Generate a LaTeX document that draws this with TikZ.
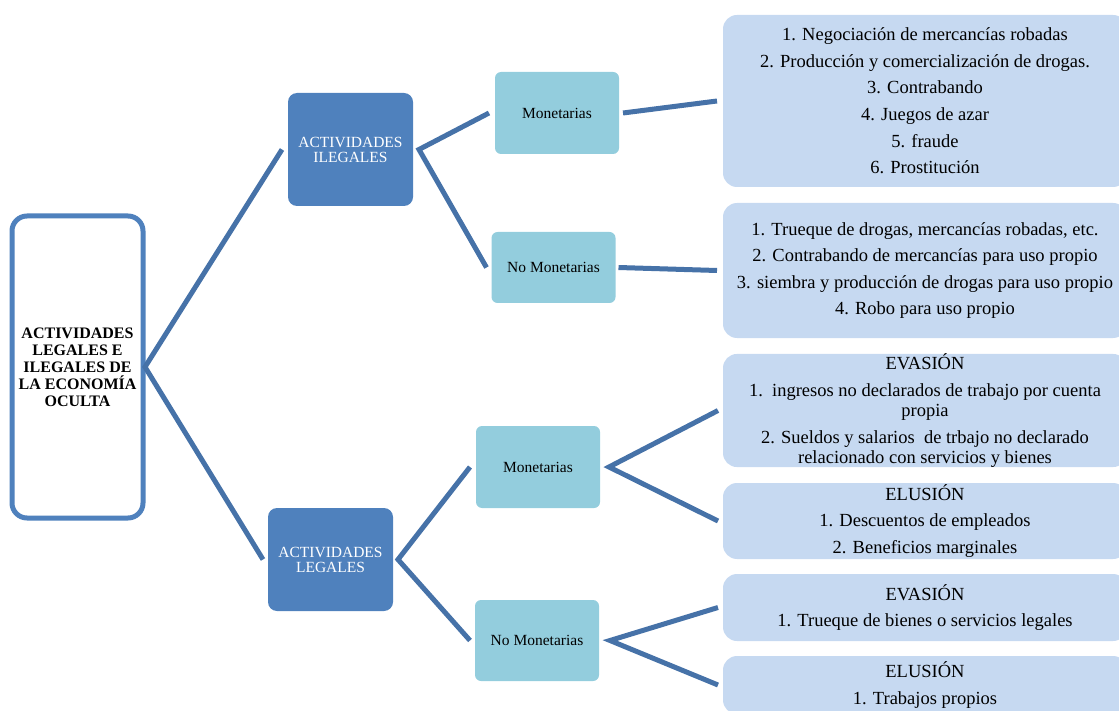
\documentclass[tikz,border=0pt]{standalone}
\usepackage{fontspec}
\setmainfont{Liberation Serif}
\usepackage{tikz}
\usetikzlibrary{positioning}

\definecolor{boxblue}{RGB}{79,129,189}
\definecolor{subblue}{RGB}{147,205,221}
\definecolor{listblue}{RGB}{198,217,241}
\definecolor{linkblue}{RGB}{70,114,168}

\newcommand\rootfont{\bfseries\fontsize{16}{17}\selectfont}
\newcommand\boxfont{\fontsize{15.5}{15}\selectfont}
\newcommand\itemsfont{\fontsize{18.5}{20}\selectfont}

\begin{document}
\begin{tikzpicture}[x=1pt,y=-1pt,on grid,
    rootbox/.style={rectangle,rounded corners=15pt,draw=boxblue,line width=5pt,fill=white,
        font=\rootfont,align=center,minimum width=131pt,minimum height=302pt,inner sep=0pt,outer sep=0pt},
    darkbox/.style={rectangle,rounded corners=9pt,fill=boxblue,text=white,font=\boxfont,
        align=center,minimum width=125pt,inner sep=0pt,outer sep=0pt},
    subbox/.style={rectangle,rounded corners=6pt,fill=subblue,font=\boxfont,
        align=center,minimum width=124pt,minimum height=82pt,inner sep=0pt,outer sep=0pt},
    listbox/.style={rectangle,rounded corners=14pt,fill=listblue,font=\itemsfont,
        align=center,minimum width=404pt,inner sep=0pt,outer sep=0pt},
    link/.style={draw=linkblue,line width=5pt}]
            \useasboundingbox (0,0) rectangle (1119,711);

            \node[rootbox] (root) at (77.5,367) {ACTIVIDADES\\LEGALES E\\ILEGALES DE\\LA ECONOMÍA\\OCULTA};
            \node[darkbox,minimum height=113pt] (ileg) [above right=217.5pt and 273pt of root] {ACTIVIDADES\\ILEGALES};
            \node[darkbox,minimum height=103pt] (leg) [below right=192.5pt and 253pt of root] {ACTIVIDADES\\LEGALES};

            \node[subbox] (mon1) [above right=36.5pt and 206.5pt of ileg] {Monetarias};
            \node[subbox,minimum height=71pt] (nomon1) [below right=118pt and 203pt of ileg] {No Monetarias};
            \node[subbox] (mon2) [above right=92.5pt and 207.5pt of leg] {Monetarias};
            \node[subbox,minimum height=81pt] (nomon2) [below right=81pt and 206.5pt of leg] {No Monetarias};

            \node[listbox,minimum height=172pt] (drogas) [above right=12pt and 368pt of mon1]
                {1. Negociación de mercancías robadas\\[6.6pt]
                 2. Producción y comercialización de drogas.\\[6.6pt]
                 3. Contrabando\\[6.6pt]
                 4. Juegos de azar\\[6.6pt]
                 5. fraude\\[6.6pt]
                 6. Prostitución};
            \node[listbox,minimum height=135pt] (trueque) [below right=3pt and 371.5pt of nomon1]
                {1. Trueque de drogas, mercancías robadas, etc.\\[6.6pt]
                 2. Contrabando de mercancías para uso propio\\[6.6pt]
                 3. siembra y producción de drogas para uso propio\\[6.6pt]
                 4. Robo para uso propio};
            \node[listbox,minimum height=113pt] (evas1) [above right=56.5pt and 387pt of mon2]
                {EVASIÓN\\[6.6pt]
                 1.\ \ ingresos no declarados de trabajo por cuenta\\propia\\[6.6pt]
                 2. Sueldos y salarios\ \ de trbajo no declarado\\relacionado con servicios y bienes};
            \node[listbox,minimum height=76pt] (elus1) [below right=54pt and 387pt of mon2]
                {ELUSIÓN\\[6.6pt]
                 1. Descuentos de empleados\\[6.6pt]
                 2. Beneficios marginales};
            \node[listbox,minimum height=67pt] (evas2) [above right=33pt and 388pt of nomon2]
                {EVASIÓN\\[6.6pt]
                 1. Trueque de bienes o servicios legales};
            \node[listbox,minimum height=58pt] (elus2) [below right=44.5pt and 388pt of nomon2]
                {ELUSIÓN\\[6.6pt]
                 1. Trabajos propios};

            \draw[link] ([xshift=-6pt]ileg.west) -- ([xshift=2pt]root.east) -- ([xshift=-5pt]leg.west);
            \draw[link] ([xshift=-6pt]mon1.west) -- ([xshift=6pt]ileg.east) -- ([xshift=-5pt]nomon1.west);
            \draw[link] ([xshift=-6pt]mon2.west) -- ([xshift=5pt]leg.east) -- ([xshift=-5pt]nomon2.west);
            \draw[link] ([xshift=4pt]mon1.east) -- ([xshift=-6pt]drogas.west);
            \draw[link] ([xshift=3pt]nomon1.east) -- ([xshift=-6pt]trueque.west);
            \draw[link] ([xshift=-5pt]evas1.west) -- ([xshift=9pt]mon2.east) -- ([xshift=-5pt]elus1.west);
            \draw[link] ([xshift=-5pt]evas2.west) -- ([xshift=11pt]nomon2.east) -- ([xshift=-5pt]elus2.west);
        \end{tikzpicture}
\end{document}
